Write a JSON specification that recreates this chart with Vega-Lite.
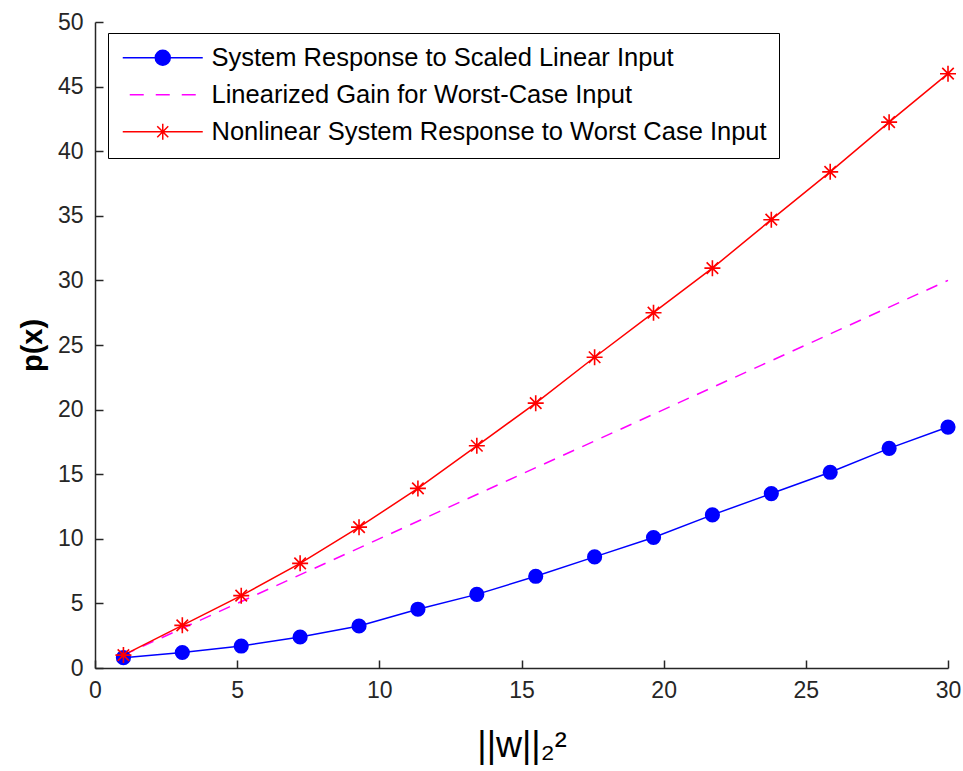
{
  "$schema": "https://vega.github.io/schema/vega-lite/v6.json",
  "width": 853,
  "height": 646,
  "autosize": {"type": "none"},
  "padding": {"left": 95, "top": 22, "right": 15, "bottom": 103},
  "background": "white",
  "config": {
    "view": {"stroke": null},
    "font": "Liberation Sans",
    "axis": {
      "grid": false,
      "domainColor": "#262626",
      "domainWidth": 1.5,
      "tickColor": "#262626",
      "tickWidth": 1.5,
      "tickSize": -8,
      "labelFlush": false,
      "labelOverlap": false,
      "labelFont": "Liberation Sans",
      "labelFontSize": 23,
      "labelColor": "#262626",
      "titleFont": "Liberation Sans",
      "titleColor": "#000000"
    }
  },
  "data": {
    "values": [
      {"series": "System Response to Scaled Linear Input", "x": 1, "y": 0.8},
      {"series": "System Response to Scaled Linear Input", "x": 3.071, "y": 1.2},
      {"series": "System Response to Scaled Linear Input", "x": 5.143, "y": 1.7},
      {"series": "System Response to Scaled Linear Input", "x": 7.214, "y": 2.4},
      {"series": "System Response to Scaled Linear Input", "x": 9.286, "y": 3.25},
      {"series": "System Response to Scaled Linear Input", "x": 11.357, "y": 4.55},
      {"series": "System Response to Scaled Linear Input", "x": 13.429, "y": 5.7},
      {"series": "System Response to Scaled Linear Input", "x": 15.5, "y": 7.1},
      {"series": "System Response to Scaled Linear Input", "x": 17.571, "y": 8.6},
      {"series": "System Response to Scaled Linear Input", "x": 19.643, "y": 10.1},
      {"series": "System Response to Scaled Linear Input", "x": 21.714, "y": 11.85},
      {"series": "System Response to Scaled Linear Input", "x": 23.786, "y": 13.5},
      {"series": "System Response to Scaled Linear Input", "x": 25.857, "y": 15.15},
      {"series": "System Response to Scaled Linear Input", "x": 27.929, "y": 17.0},
      {"series": "System Response to Scaled Linear Input", "x": 30, "y": 18.65},
      {"series": "Linearized Gain for Worst-Case Input", "x": 1, "y": 1},
      {"series": "Linearized Gain for Worst-Case Input", "x": 30, "y": 30},
      {"series": "Nonlinear System Response to Worst Case Input", "x": 1, "y": 1.0},
      {"series": "Nonlinear System Response to Worst Case Input", "x": 3.071, "y": 3.3},
      {"series": "Nonlinear System Response to Worst Case Input", "x": 5.143, "y": 5.6},
      {"series": "Nonlinear System Response to Worst Case Input", "x": 7.214, "y": 8.1},
      {"series": "Nonlinear System Response to Worst Case Input", "x": 9.286, "y": 10.9},
      {"series": "Nonlinear System Response to Worst Case Input", "x": 11.357, "y": 13.9},
      {"series": "Nonlinear System Response to Worst Case Input", "x": 13.429, "y": 17.2},
      {"series": "Nonlinear System Response to Worst Case Input", "x": 15.5, "y": 20.5},
      {"series": "Nonlinear System Response to Worst Case Input", "x": 17.571, "y": 24.05},
      {"series": "Nonlinear System Response to Worst Case Input", "x": 19.643, "y": 27.5},
      {"series": "Nonlinear System Response to Worst Case Input", "x": 21.714, "y": 30.95},
      {"series": "Nonlinear System Response to Worst Case Input", "x": 23.786, "y": 34.7},
      {"series": "Nonlinear System Response to Worst Case Input", "x": 25.857, "y": 38.4},
      {"series": "Nonlinear System Response to Worst Case Input", "x": 27.929, "y": 42.25},
      {"series": "Nonlinear System Response to Worst Case Input", "x": 30, "y": 46.0}
    ]
  },
  "encoding": {
    "x": {
      "field": "x", "type": "quantitative",
      "scale": {"domain": [0, 30], "nice": false, "zero": false},
      "axis": {
        "values": [0, 5, 10, 15, 20, 25, 30],
        "labelPadding": 19,
        "title": "||w||₂²",
        "titleFontSize": 36,
        "titleFontWeight": "normal",
        "titleBaseline": "alphabetic",
        "titleY": 88
      }
    },
    "y": {
      "field": "y", "type": "quantitative",
      "scale": {"domain": [0, 50], "nice": false},
      "axis": {
        "values": [0, 5, 10, 15, 20, 25, 30, 35, 40, 45, 50],
        "labelPadding": 20,
        "title": "p(x)",
        "titleFontSize": 29,
        "titleFontWeight": "bold",
        "titleX": -48,
        "titleBaseline": "bottom"
      }
    }
  },
  "layer": [
    {
      "transform": [{"filter": "datum.series === 'Linearized Gain for Worst-Case Input'"}],
      "mark": {"type": "line", "strokeWidth": 1.5, "color": "#ff00ff", "strokeDash": [12, 9]}
    },
    {
      "transform": [{"filter": "datum.series === 'System Response to Scaled Linear Input'"}],
      "mark": {"type": "line", "strokeWidth": 1.5, "color": "#0000ff"}
    },
    {
      "transform": [{"filter": "datum.series === 'Nonlinear System Response to Worst Case Input'"}],
      "mark": {"type": "line", "strokeWidth": 1.5, "color": "#ff0000"}
    },
    {
      "transform": [{"filter": "datum.series === 'System Response to Scaled Linear Input'"}],
      "mark": {"type": "point", "shape": "circle", "filled": true, "color": "#0000ff", "size": 230, "opacity": 1}
    },
    {
      "transform": [{"filter": "datum.series === 'Nonlinear System Response to Worst Case Input'"}],
      "mark": {"type": "point", "shape": "M0,-1L0,1M-1,0L1,0M-0.72,-0.72L0.72,0.72M-0.72,0.72L0.72,-0.72", "filled": false, "color": "#ff0000", "size": 256, "strokeWidth": 1.6, "opacity": 1}
    },
    {
      "mark": {"type": "point", "opacity": 0, "filled": true, "size": 1},
      "encoding": {
        "color": {
          "field": "series", "type": "nominal",
          "scale": {
            "domain": ["System Response to Scaled Linear Input", "Linearized Gain for Worst-Case Input", "Nonlinear System Response to Worst Case Input"],
            "range": ["#0000ff", "#ff00ff", "#ff0000"]
          },
          "legend": {
            "title": null,
            "orient": "none",
            "legendX": 13,
            "legendY": 11,
            "direction": "vertical",
            "strokeColor": "#000000",
            "fillColor": "#ffffff",
            "padding": 12,
            "rowPadding": 10,
            "symbolSize": 400,
            "symbolOpacity": 1,
            "symbolStrokeWidth": 1.5,
            "labelOffset": 66,
            "labelFont": "Liberation Sans",
            "labelFontSize": 25.5,
            "labelColor": "#000000",
            "labelLimit": 0,
            "encode": {
              "symbols": {
                "update": {
                  "fill": {"scale": "color", "field": "value"},
                  "stroke": {"scale": "color", "field": "value"},
                  "strokeWidth": {"value": 1.5},
                  "opacity": {"value": 1}
                }
              }
            }
          }
        },
        "shape": {
          "field": "series", "type": "nominal",
          "scale": {
            "domain": ["System Response to Scaled Linear Input", "Linearized Gain for Worst-Case Input", "Nonlinear System Response to Worst Case Input"],
            "range": [
              "M-1,0L7,0M2.25,0A0.75,0.75 0 1 0 3.75,0A0.75,0.75 0 1 0 2.25,0Z",
              "M-0.3,0L1.1,0M2.3,0L3.7,0M4.9,0L6.3,0",
              "M-1,0L7,0M3,-0.8L3,0.8M2.2,0L3.8,0M2.45,-0.55L3.55,0.55M2.45,0.55L3.55,-0.55"
            ]
          }
        }
      }
    }
  ]
}
